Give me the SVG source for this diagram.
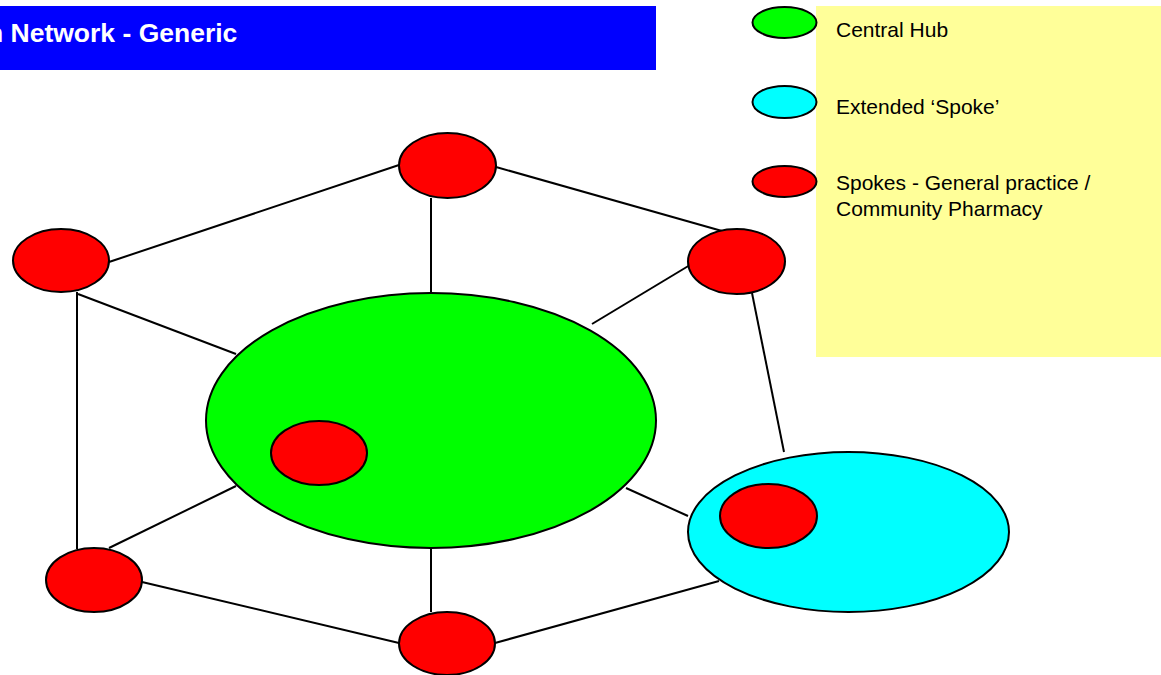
<svg xmlns="http://www.w3.org/2000/svg" width="1161" height="675" viewBox="0 0 1161 675">
<style>
.red{fill:#FF0000;stroke:#000;stroke-width:2}
.green{fill:#00FF00;stroke:#000;stroke-width:2}
.cyan{fill:#00FFFF;stroke:#000;stroke-width:2}
.ln{stroke:#000;stroke-width:2;fill:none}
.lt{font-family:"Liberation Sans",Arial,sans-serif;font-size:21px;fill:#000}
.tt{font-family:"Liberation Sans",Arial,sans-serif;font-size:26.5px;font-weight:bold;fill:#fff}
</style>
<rect width="1161" height="675" fill="#fff"/>
<g id="title">
<rect x="0" y="6" width="656" height="64" fill="#0000FF"/>
<text class="tt" x="-13" y="42">n Network - Generic</text>
</g>
<g id="legend">
<rect x="816" y="6" width="345" height="351" fill="#FFFF99"/>
<ellipse class="green" cx="784.5" cy="22.5" rx="32" ry="15.5"/>
<ellipse class="cyan" cx="784.5" cy="102" rx="32" ry="16"/>
<ellipse class="red" cx="784.5" cy="181.5" rx="32" ry="15.5"/>
<text class="lt" x="836" y="37">Central Hub</text>
<text class="lt" x="836" y="114">Extended ‘Spoke’</text>
<text class="lt" x="836" y="190">Spokes - General practice /</text>
<text class="lt" x="836" y="216">Community Pharmacy</text>
</g>
<g id="connectors">
<line class="ln" x1="109" y1="262" x2="399" y2="165"/>
<line class="ln" x1="496" y1="167" x2="722" y2="231"/>
<line class="ln" x1="431" y1="198" x2="431" y2="294"/>
<line class="ln" x1="78" y1="294" x2="236" y2="354"/>
<line class="ln" x1="77" y1="292" x2="77" y2="549"/>
<line class="ln" x1="109" y1="548" x2="236" y2="486"/>
<line class="ln" x1="142" y1="582" x2="399" y2="643"/>
<line class="ln" x1="431" y1="547" x2="431" y2="612"/>
<line class="ln" x1="495" y1="643" x2="719" y2="581"/>
<line class="ln" x1="592" y1="324" x2="690" y2="265"/>
<line class="ln" x1="752" y1="293" x2="784" y2="452"/>
<line class="ln" x1="626" y1="488" x2="688" y2="516"/>
</g>
<g id="hub">
<ellipse class="green" cx="431" cy="420.5" rx="225" ry="127.5"/>
</g>
<g id="hub-spoke">
<ellipse class="red" cx="319" cy="453" rx="48" ry="32"/>
</g>
<g id="extended-spoke">
<ellipse class="cyan" cx="848.5" cy="532" rx="160.5" ry="80"/>
</g>
<g id="extended-inner-spoke">
<ellipse class="red" cx="768.5" cy="516" rx="48.5" ry="32"/>
</g>
<g id="spoke-top">
<ellipse class="red" cx="447.5" cy="165.5" rx="48.5" ry="32.5"/>
</g>
<g id="spoke-left">
<ellipse class="red" cx="61" cy="260.5" rx="48" ry="31.5"/>
</g>
<g id="spoke-right">
<ellipse class="red" cx="736.5" cy="261.5" rx="48.5" ry="32.5"/>
</g>
<g id="spoke-bottom-left">
<ellipse class="red" cx="94" cy="580" rx="48" ry="32"/>
</g>
<g id="spoke-bottom">
<ellipse class="red" cx="447" cy="643.5" rx="48" ry="31.5"/>
</g>
</svg>
